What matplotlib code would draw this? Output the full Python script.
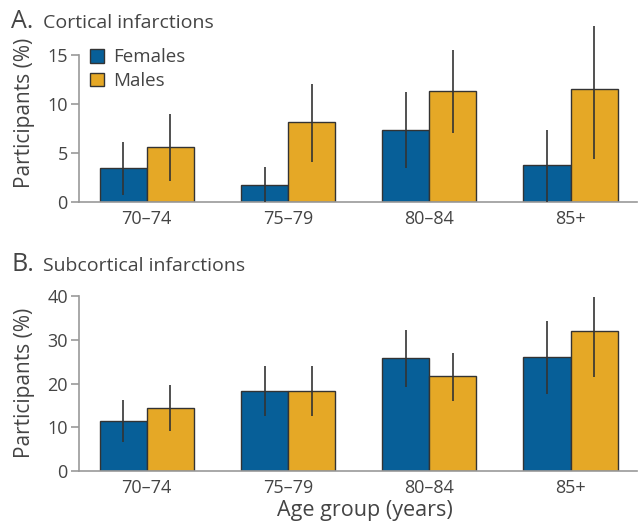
import matplotlib.pyplot as plt
import numpy as np

plt.rcParams['font.family'] = ['Open Sans', 'DejaVu Sans']

groups = ['70–74', '75–79', '80–84', '85+']

# A. cortical infarctions (%)
cort_f = [3.45, 1.67, 7.3, 3.75]
cort_f_lo = [0.7, 0.0, 3.45, 0.0]
cort_f_hi = [6.1, 3.57, 11.15, 7.3]
cort_m = [5.6, 8.1, 11.3, 11.5]
cort_m_lo = [2.1, 4.1, 7.05, 4.35]
cort_m_hi = [8.95, 12.0, 15.45, 17.9]

# B. subcortical infarctions (%)
sub_f = [11.5, 18.3, 25.9, 26.1]
sub_f_lo = [6.7, 12.5, 19.3, 17.6]
sub_f_hi = [16.2, 24.0, 32.4, 34.4]
sub_m = [14.5, 18.3, 21.7, 32.0]
sub_m_lo = [9.2, 12.5, 16.1, 21.5]
sub_m_hi = [19.7, 24.0, 27.1, 39.9]

blue = '#075f98'
gold = '#e5a826'
grey = '#999999'
txt = '#444444'

fig = plt.figure(figsize=(6.38, 5.29), dpi=100)
axA = fig.add_axes([0.1238, 0.6187, 0.8746, 0.337])
axB = fig.add_axes([0.1238, 0.1102, 0.8746, 0.332])

x = np.arange(len(groups))
w = 1 / 3


def panel(ax, f, flo, fhi, m, mlo, mhi, top, ymax, ticks):
    f, m = np.array(f), np.array(m)
    ef = [f - np.array(flo), np.array(fhi) - f]
    em = [m - np.array(mlo), np.array(mhi) - m]
    ax.bar(x - w / 2, f, w, color=blue, edgecolor='#333333', linewidth=1, label='Females', zorder=2)
    ax.bar(x + w / 2, m, w, color=gold, edgecolor='#333333', linewidth=1, label='Males', zorder=2)
    ax.errorbar(x - w / 2, f, yerr=ef, fmt='none', ecolor='#333333', elinewidth=1.2, capsize=0, zorder=3)
    ax.errorbar(x + w / 2, m, yerr=em, fmt='none', ecolor='#333333', elinewidth=1.2, capsize=0, zorder=3)
    ax.set_xlim(-0.48, 3.47)
    ax.set_ylim(0, ymax)
    ax.set_yticks(ticks)
    ax.set_xticks(x)
    ax.set_xticklabels(groups)
    for s in ['top', 'right']:
        ax.spines[s].set_visible(False)
    ax.spines['left'].set_bounds(0, top)
    ax.spines['left'].set_color(grey)
    ax.spines['bottom'].set_color(grey)
    ax.spines['left'].set_linewidth(1.2)
    ax.spines['bottom'].set_linewidth(1.2)
    ax.tick_params(axis='y', colors=grey, labelcolor=txt, labelsize=13, length=6, width=1.2, pad=2)
    ax.tick_params(axis='x', length=0, labelcolor=txt, labelsize=13, pad=6)
    ax.set_ylabel('Participants (%)', fontsize=15, color=txt, labelpad=9)


panel(axA, cort_f, cort_f_lo, cort_f_hi, cort_m, cort_m_lo, cort_m_hi, 15, 18.2, [0, 5, 10, 15])
panel(axB, sub_f, sub_f_lo, sub_f_hi, sub_m, sub_m_lo, sub_m_hi, 40, 40.3, [0, 10, 20, 30, 40])

axA.legend(loc='upper left', bbox_to_anchor=(-0.01, 0.955), frameon=False, fontsize=13.5,
           handlelength=0.75, handleheight=0.75, handletextpad=0.45, labelspacing=0.3,
           labelcolor=txt)
axB.set_xlabel('Age group (years)', fontsize=15.5, color=txt)
axB.xaxis.set_label_coords(0.513, -0.165)

fig.text(0.018, 0.947, 'A.', fontsize=18, color=txt)
fig.text(0.068, 0.947, 'Cortical infarctions', fontsize=14, color=txt)
fig.text(0.018, 0.488, 'B.', fontsize=18, color=txt)
fig.text(0.068, 0.488, 'Subcortical infarctions', fontsize=14, color=txt)

fig.savefig('out.png', dpi=100)
